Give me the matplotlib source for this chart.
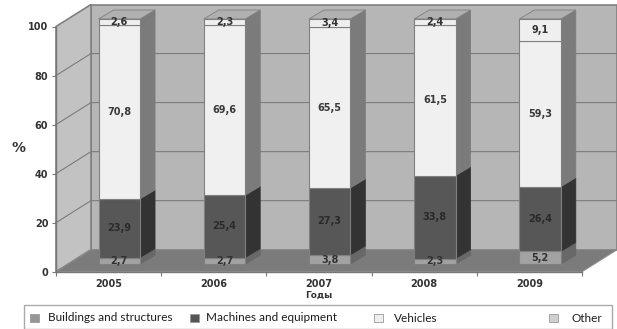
import matplotlib
matplotlib.use("Agg")
import matplotlib.pyplot as plt
from matplotlib.patches import Rectangle

years = ['2005', '2006', '2007', '2008', '2009']
buildings = [2.7, 2.7, 3.8, 2.3, 5.2]
machines = [23.9, 25.4, 27.3, 33.8, 26.4]
vehicles = [70.8, 69.6, 65.5, 61.5, 59.3]
other = [2.6, 2.3, 3.4, 2.4, 9.1]
series_names = ['Buildings and structures', 'Machines and equipment', 'Vehicles', 'Other']
yticks = [0, 20, 40, 60, 80, 100]

W, H = 617, 329
plt.rcParams['font.family'] = ['DejaVu Sans']

fig = plt.figure(figsize=(W / 100, H / 100), dpi=100)
ax = fig.add_axes([56 / W, (H - 271.7) / H, 526 / W, 245.2 / H])
ax.set_xlim(0, 5)
ax.set_ylim(0, 100)
ax.patch.set_visible(False)

# px -> data
PX = 5 / 526
PY = 100 / 245.2
wall_dx, wall_dy = 35 * PX, 22 * PY
bar_dx, bar_dy = 15 * PX, 9 * PY
off_dx, off_dy = 10.7 * PX, 7.5 * PY
bar_w = 41.5 * PX
edge = '#808080'

def poly(xs, ys, color, z, ec=edge, lw=0.8):
    ax.fill(xs, ys, facecolor=color, edgecolor=ec, linewidth=lw, zorder=z, clip_on=False)

# walls and floor
poly([wall_dx, 5 + wall_dx, 5 + wall_dx, wall_dx],
     [wall_dy, wall_dy, 100 + wall_dy, 100 + wall_dy], '#b6b6b6', 1, lw=1.2)
poly([0, wall_dx, wall_dx, 0], [0, wall_dy, 100 + wall_dy, 100], '#c2c2c2', 1, lw=1.2)
poly([0, 5, 5 + wall_dx, wall_dx], [0, 0, wall_dy, wall_dy], '#7b7b7b', 2, ec='#8a8a8a')

for t in yticks[1:-1]:
    ax.plot([0, wall_dx, 5 + wall_dx], [t, t + wall_dy, t + wall_dy], color='#7c7c7c',
            lw=0.8, zorder=2, clip_on=False)

# front, side colours per series, bottom to top
stack = [buildings, machines, vehicles, other]
fronts = ['#a2a2a2', '#575757', '#f0f0f0', '#efefef']
sides = ['#686868', '#333333', '#7b7b7b', '#7b7b7b']
text_colors = ['#333333', '#2a2a2a', '#3a3a3a', '#333333']

for i in range(len(years)):
    x0 = i + 0.5 + off_dx - bar_w / 2
    x1 = x0 + bar_w
    bottom = off_dy
    for j, vals in enumerate(stack):
        v = vals[i]
        ax.bar(x0, v, width=bar_w, bottom=bottom, align='edge', color=fronts[j],
               edgecolor='#808080', linewidth=0.8, zorder=5, clip_on=False)
        poly([x1, x1 + bar_dx, x1 + bar_dx, x1],
             [bottom, bottom + bar_dy, bottom + v + bar_dy, bottom + v],
             sides[j], 4, ec=sides[j], lw=0.5)
        ax.text(x0 + bar_w / 2, bottom + v / 2, str(v).replace('.', ','), ha='center',
                va='center', fontsize=7, color=text_colors[j], fontweight='bold',
                zorder=6, clip_on=False)
        bottom += v
    poly([x0, x1, x1 + bar_dx, x0 + bar_dx], [bottom, bottom, bottom + bar_dy, bottom + bar_dy],
         '#b0b0b0', 4, lw=0.6)

# axes
for s in ['top', 'right']:
    ax.spines[s].set_visible(False)
for s in ['left', 'bottom']:
    ax.spines[s].set_color('#777777')
    ax.spines[s].set_linewidth(1.0)
    ax.spines[s].set_zorder(3)
ax.set_yticks(yticks)
ax.set_yticklabels([str(t) for t in yticks], fontsize=7, fontweight='bold', color='#333333')
ax.set_xticks(range(6))
ax.set_xticklabels([])
ax.set_xticks([i + 0.5 for i in range(5)], minor=True)
ax.set_xticklabels(years, minor=True, fontsize=7, fontweight='bold', color='#333333')
ax.tick_params(axis='x', which='minor', length=0, pad=5.5)
ax.tick_params(axis='both', which='major', length=3, color='#777777', width=0.8, pad=2.5)
ax.text(-38 * PX, 50.5, '%', fontsize=10, fontweight='bold', color='#333333', ha='center', va='center')
ax.set_xlabel('Годы', fontsize=6.5, fontweight='bold', color='#333333', labelpad=1)

# legend, placed by hand like the original box
tr = fig.transFigure
fig.add_artist(Rectangle((24 / W, 1 - 329 / H), 588 / W, 24 / H, transform=tr, facecolor='white',
                         edgecolor='#aaaaaa', linewidth=1.0))
legend_x = [34.5, 194, 378, 553]
label_x = [48, 206, 394, 572]
legend_y = [317.5, 317.5, 318, 318]
legend_fc = ['#969696', '#555555', '#efefef', '#d0d0d0']
for name, mx, lx, ly, fc in zip(series_names, legend_x, label_x, legend_y, legend_fc):
    fig.add_artist(Rectangle(((mx - 4.5) / W, 1 - (ly + 4) / H), 9 / W, 8 / H, transform=tr,
                             facecolor=fc, edgecolor='#999999', linewidth=0.6))
    fig.text(lx / W, 1 - ly / H, name, fontsize=8.5, color='#1c1c1c', ha='left', va='center',
             family=['Lato'])

fig.savefig('out.png', dpi=100)
